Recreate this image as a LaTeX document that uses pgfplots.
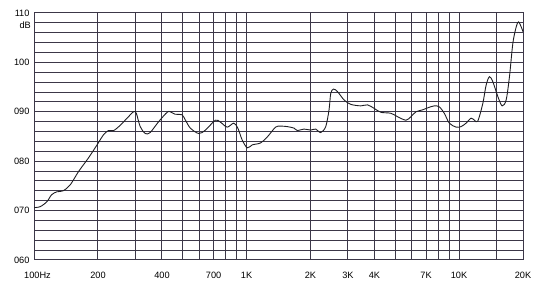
\documentclass[border=0pt]{standalone}
\usepackage{pgfplots}
\pgfplotsset{compat=1.18}
\usepackage{fontspec}
\setmainfont{Liberation Sans}
\definecolor{gridc}{RGB}{60,55,72}
\definecolor{curvec}{RGB}{30,30,35}
\pgfplotstableread{
f db
100 70.6
107 70.8
115 71.8
121 73.2
128 73.8
137 74.0
148 75.2
162 77.9
180 80.6
198 83.3
212 85.3
224 86.2
237 86.2
255 87.3
274 88.7
294 90.0
303 89.7
316 87.0
334 85.6
352 85.8
386 88.0
423 89.9
438 90.0
462 89.5
497 89.4
516 88.3
544 86.7
596 85.6
641 86.3
714 88.3
754 87.9
811 86.9
871 87.7
910 86.7
954 84.3
1008 82.7
1064 83.3
1165 83.7
1252 84.9
1370 86.9
1447 87.1
1556 87.0
1672 86.7
1735 86.2
1863 86.5
2004 86.3
2116 86.5
2234 85.8
2359 87.0
2445 90.4
2490 93.7
2564 94.6
2678 94.1
2877 92.4
3095 91.5
3450 91.2
3710 91.4
3985 90.7
4286 89.9
4780 89.7
5140 89.0
5623 88.3
5937 89.0
6270 90.0
6743 90.4
7119 90.8
7646 91.2
8073 91.0
8523 89.7
9000 87.7
9679 86.9
10220 87.0
10790 87.7
11390 88.7
11810 88.3
12250 88.1
12940 91.7
13410 95.4
13900 97.1
14420 96.1
15220 93.1
15950 91.2
16660 92.4
17270 97.1
17920 103.9
18580 107.2
19040 108.2
19610 107.2
20000 106.2
}\resp
\begin{document}
\begin{tikzpicture}
\begin{axis}[
  scale only axis,
  width=489pt, height=247pt,
  xmode=log,
  xmin=100, xmax=20000,
  ymin=60, ymax=110,
  xtick={100,200,300,400,500,600,700,800,900,1000,2000,3000,4000,5000,6000,7000,8000,9000,10000,15000,20000},
  xticklabels={\hspace*{7pt}100Hz,200,,400,,,700,,,1K,2K,3K,4K,,,7K,,,10K,,20K},
  ytick={60,62,64,66,68,70,72,74,76,78,80,82,84,86,88,90,92,94,96,98,100,102,104,106,108,110},
  yticklabels={060,,,,,070,,,,,080,,,,,090,,,,,100,,,,,110},
  major tick length=0pt,
  minor tick num=0,
  xmajorgrids, ymajorgrids,
  grid style={gridc, line width=1pt},
  axis line style={gridc, line width=1pt},
  tick label style={font=\fontsize{9.2}{10}\selectfont, text=black},
  xticklabel style={yshift=-8.5pt},
  yticklabel style={xshift=-1pt},
  /pgf/number format/assume math mode=true,
  clip=true,
]
\addplot[curvec, line width=0.9pt, smooth, tension=0.5] table[x=f, y=db] {\resp};
\coordinate (SW) at (rel axis cs:0,0);
\coordinate (NE) at (rel axis cs:1,1);
\coordinate (DB) at (rel axis cs:0,0.952);
\end{axis}
\node[anchor=east, font=\fontsize{9.2}{10}\selectfont, text=black, inner sep=0pt] at ([xshift=-3pt]DB) {dB};
\path (SW) ++(-34pt,-32pt) coordinate (B1);
\path (NE) ++(27pt,13pt) coordinate (B2);
\path (B1) rectangle (B2);
\end{tikzpicture}
\end{document}
